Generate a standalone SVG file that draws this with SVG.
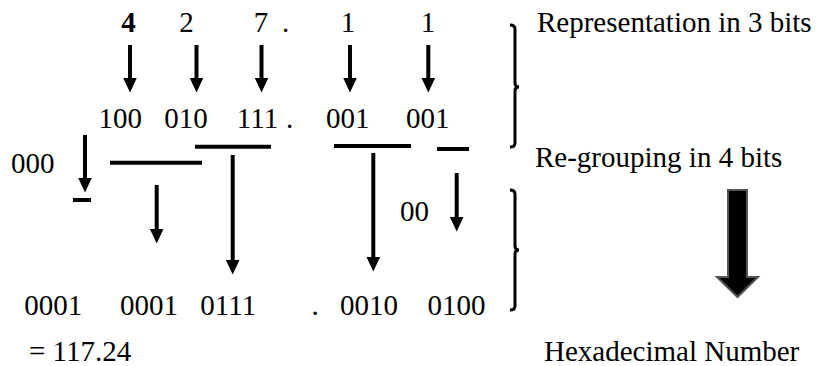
<svg xmlns="http://www.w3.org/2000/svg" width="816" height="366" viewBox="0 0 816 366">
<style>
text{font-family:"Liberation Serif","Times New Roman",serif;font-size:29px;fill:#000}
.b{font-weight:bold}
.m{text-anchor:middle}
.ar{stroke:#000;stroke-width:4;fill:none;marker-end:url(#ah)}
.bar{stroke:#000;stroke-width:4;fill:none}
.br{stroke:#000;stroke-width:3;fill:none}
</style>
<defs>
<marker id="ah" viewBox="0 0 15 14" markerWidth="15" markerHeight="14" markerUnits="userSpaceOnUse" refX="0.5" refY="7" orient="auto">
<path d="M0,0 L15,7 L0,14 z" fill="#000"/>
</marker>
</defs>
<rect width="816" height="366" fill="#fff"/>
<g id="octal">
<text class="m b" x="128.5" y="32">4</text>
<text class="m" x="186.5" y="32">2</text>
<text class="m" x="261" y="32">7</text>
<text x="282" y="32">.</text>
<text class="m" x="348" y="32">1</text>
<text class="m" x="428" y="32">1</text>
</g>
<g id="bits3">
<text x="98.5" y="128">100</text>
<text x="164.3" y="128">010</text>
<text x="236.8" y="128">111</text>
<text x="286" y="128">.</text>
<text x="326" y="128">001</text>
<text x="406" y="128">001</text>
</g>
<g id="pad-left"><text x="11" y="173">000</text></g>
<g id="pad-right"><text x="400" y="221">00</text></g>
<g id="bits4">
<text x="24.3" y="315">0001</text>
<text x="120" y="315">0001</text>
<text x="200.3" y="315">0111</text>
<text x="311.4" y="315">.</text>
<text x="340" y="315">0010</text>
<text x="427.6" y="315">0100</text>
</g>
<g id="result"><text x="29" y="361">= 117.24</text></g>
<g id="label-3bits"><text x="537" y="31.5">Representation in 3 bits</text></g>
<g id="label-4bits"><text x="535" y="167">Re-grouping in 4 bits</text></g>
<g id="label-hex"><text x="544" y="361">Hexadecimal Number</text></g>
<g id="brace-top"><path class="br" d="M510,25 Q515,25 515,29 L515,83 Q515,87 519,87 Q515,87 515,91 L515,143 Q515,147 510,147"/></g>
<g id="brace-bottom"><path class="br" d="M510,190 Q515,190 515,194 L515,246 Q515,250 519,250 Q515,250 515,254 L515,306 Q515,310 510,310"/></g>
<g id="big-arrow"><path d="M728,190 L747,190 L747,277 L758,277 L737.5,297 L717,277 L728,277 z" fill="#000" stroke="#555" stroke-width="2" stroke-linejoin="miter"/></g>
<g id="connectors">
<line class="ar" x1="130" y1="45" x2="130" y2="78"/>
<line class="ar" x1="196.5" y1="45" x2="196.5" y2="78"/>
<line class="ar" x1="261.5" y1="45" x2="261.5" y2="78"/>
<line class="ar" x1="350" y1="45" x2="350" y2="78"/>
<line class="ar" x1="428.3" y1="45" x2="428.3" y2="78"/>
<line class="ar" x1="85" y1="135" x2="85" y2="178"/>
<line class="ar" x1="156.7" y1="185" x2="156.7" y2="229"/>
<line class="ar" x1="232.7" y1="155" x2="232.7" y2="260"/>
<line class="ar" x1="373.3" y1="153" x2="373.3" y2="257"/>
<line class="ar" x1="456.7" y1="173" x2="456.7" y2="217"/>
<line class="bar" x1="73" y1="200" x2="91" y2="200"/>
<line class="bar" x1="110" y1="162.7" x2="202" y2="162.7"/>
<line class="bar" x1="195" y1="146.7" x2="271" y2="146.7"/>
<line class="bar" x1="334" y1="146" x2="411" y2="146"/>
<line class="bar" x1="437" y1="149" x2="469" y2="149"/>
</g>
</svg>
